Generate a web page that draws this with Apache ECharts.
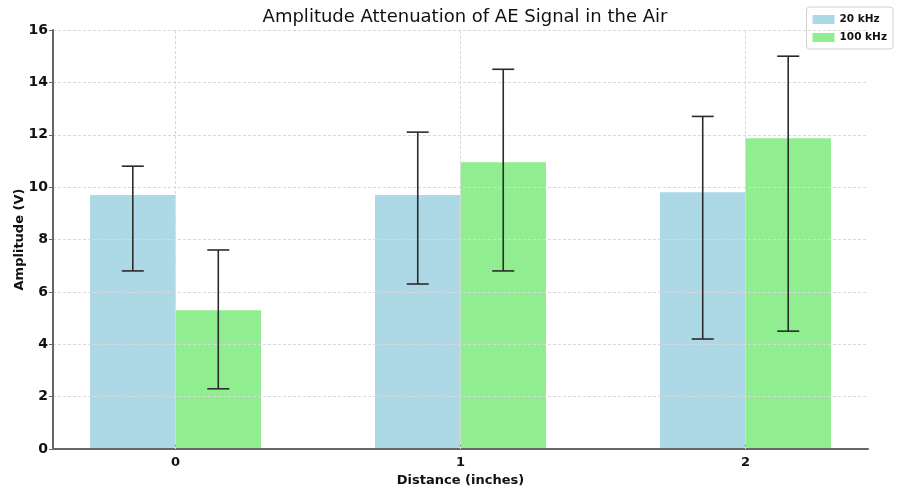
<!DOCTYPE html>
<html>
<head>
<meta charset="utf-8">
<script src="https://cdn.jsdelivr.net/npm/echarts@6/dist/echarts.min.js"></script>
<style>
  html, body { margin: 0; padding: 0; background: #fff; }
  #chart { width: 897px; height: 488px; }
</style>
</head>
<body>
<div id="chart"></div>
<script>
// data
var distances = [0, 1, 2];
var amp20 = [9.7, 9.7, 9.8];
var amp100 = [5.3, 10.95, 11.87];
var err20Low = [6.8, 6.3, 4.2];
var err20High = [10.8, 12.1, 12.7];
var err100Low = [2.3, 6.8, 4.5];
var err100High = [7.6, 14.5, 15.0];
var yTicks = [0, 2, 4, 6, 8, 10, 12, 14, 16];

var BAR_W = 0.3;
var FONT = "DejaVu Sans";

function barSeries(name, color, values, offset) {
    return {
        name: name,
        type: "custom",
        z: 2,
        itemStyle: { color: color },
        data: distances.map(function (d, i) { return [d, values[i]]; }),
        renderItem: function (params, api) {
            var x = api.value(0) + offset;
            var p0 = api.coord([x, api.value(1)]);
            var p1 = api.coord([x + BAR_W, 0]);
            return {
                type: "rect",
                shape: { x: p0[0], y: p0[1], width: p1[0] - p0[0], height: p1[1] - p0[1] },
                style: { fill: color }
            };
        }
    };
}

function errSeries(low, high, offset) {
    return {
        type: "custom",
        z: 5,
        silent: true,
        data: distances.map(function (d, i) { return [d, low[i], high[i]]; }),
        renderItem: function (params, api) {
            var x = api.value(0) + offset;
            var lo = api.coord([x, api.value(1)]);
            var hi = api.coord([x, api.value(2)]);
            var cap = 11;
            var st = { stroke: "#2b2b2b", lineWidth: 1.6 };
            return {
                type: "group",
                children: [
                    { type: "line", shape: { x1: lo[0], y1: lo[1], x2: hi[0], y2: hi[1] }, style: st },
                    { type: "line", shape: { x1: lo[0] - cap, y1: lo[1], x2: lo[0] + cap, y2: lo[1] }, style: st },
                    { type: "line", shape: { x1: hi[0] - cap, y1: hi[1], x2: hi[0] + cap, y2: hi[1] }, style: st }
                ]
            };
        }
    };
}

var chart = echarts.init(document.getElementById("chart"));
chart.setOption({
    animation: false,
    backgroundColor: "#fff",
    title: {
        text: "Amplitude Attenuation of AE Signal in the Air",
        left: 460,
        textAlign: "center",
        top: 3,
        textStyle: { fontFamily: FONT, fontSize: 18, fontWeight: "normal", color: "#111" }
    },
    legend: {
        right: 4,
        top: 7,
        orient: "vertical",
        itemWidth: 22,
        itemHeight: 9,
        itemGap: 7,
        padding: [7, 6, 6, 6],
        borderColor: "#d0d0d0",
        borderWidth: 1,
        borderRadius: 3,
        data: [
            { name: "20 kHz", icon: "rect", itemStyle: { color: "#add8e6" } },
            { name: "100 kHz", icon: "rect", itemStyle: { color: "#90ee90" } }
        ],
        textStyle: { fontFamily: FONT, fontSize: 10.5, fontWeight: "bold", color: "#111" }
    },
    grid: { left: 53, right: 29, top: 30, bottom: 39, outerBoundsMode: "none" },
    xAxis: {
        type: "value",
        min: -0.43,
        max: 2.43,
        z: 3,
        name: "Distance (inches)",
        nameLocation: "middle",
        nameGap: 22,
        nameTextStyle: { fontFamily: FONT, fontSize: 13, fontWeight: "bold", color: "#111" },
        axisLine: { lineStyle: { color: "#666", width: 2 } },
        axisTick: { show: true, customValues: distances, length: 4, inside: true, lineStyle: { color: "#666" } },
        axisLabel: {
            customValues: distances,
            fontFamily: FONT, fontSize: 13, fontWeight: "bold", color: "#111", margin: 7
        },
        splitLine: { show: false }
    },
    yAxis: {
        type: "value",
        min: yTicks[0],
        max: yTicks[yTicks.length - 1],
        interval: 2,
        z: 3,
        name: "Amplitude (V)",
        nameLocation: "middle",
        nameGap: 27,
        nameMoveOverlap: false,
        nameTextStyle: { fontFamily: FONT, fontSize: 13, fontWeight: "bold", color: "#111" },
        axisLine: { show: true, onZero: false, lineStyle: { color: "#666", width: 2 } },
        axisTick: { show: true, length: 4, lineStyle: { color: "#666" } },
        axisLabel: { fontFamily: FONT, fontSize: 14, fontWeight: "bold", color: "#111", margin: 5 },
        splitLine: { show: true, lineStyle: { color: "#d9d9d9", type: [3, 2], width: 1 } }
    },
    series: [
        barSeries("20 kHz", "#add8e6", amp20, -BAR_W),
        barSeries("100 kHz", "#90ee90", amp100, 0),
        errSeries(err20Low, err20High, -BAR_W / 2),
        errSeries(err100Low, err100High, BAR_W / 2),
        {
            // vertical grid lines at the category ticks
            type: "line",
            data: [],
            silent: true,
            z: 3,
            markLine: {
                symbol: "none",
                silent: true,
                label: { show: false },
                lineStyle: { color: "#d9d9d9", type: [3, 2], width: 1 },
                data: distances.map(function (d) { return { xAxis: d }; })
            }
        }
    ]
});
</script>
</body>
</html>
